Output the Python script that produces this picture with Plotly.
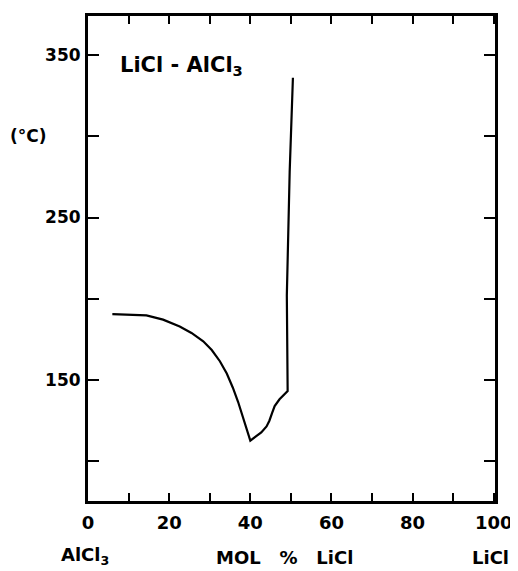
import plotly.graph_objects as go

# Liquidus curve of LiCl-AlCl3 (mol % LiCl vs temperature in °C)
mol_pct_licl = [6.0, 10.0, 14.4, 18.5, 22.6, 25.5, 28.4, 30.5, 32.5, 34.2, 35.7, 37.0, 38.2, 39.2, 40.0,
                41.3, 42.7, 44.0, 44.7, 45.4, 46.0, 47.2, 49.2, 49.0, 49.7, 50.5]
temp_c = [190.6, 190.4, 189.8, 187.2, 183.0, 179.0, 173.9, 168.5, 161.6, 154.0, 145.3, 136.5, 127.0, 119.0, 112.7,
          115.2, 117.8, 121.5, 125.0, 130.0, 134.0, 138.2, 143.3, 202.0, 278.0, 336.0]

x_tick_vals = [0, 10, 20, 30, 40, 50, 60, 70, 80, 90, 100]
x_tick_text = ["0", "", "20", "", "40", "", "60", "", "80", "", "100"]
y_tick_vals = [100, 150, 200, 250, 300, 350]
y_tick_text = ["", "150", "", "250", "", "350"]

FONT = "DejaVu Sans"

fig = go.Figure()
fig.add_trace(go.Scatter(x=mol_pct_licl, y=temp_c, mode="lines",
                         line=dict(color="black", width=2.2), showlegend=False, hoverinfo="skip"))

fig.update_layout(
    width=510, height=563,
    margin=dict(l=80, r=21, t=5, b=70),
    paper_bgcolor="white", plot_bgcolor="white",
    showlegend=False,
)
fig.update_xaxes(
    range=[0, 100.3], showgrid=False, zeroline=False,
    showline=True, linecolor="black", linewidth=3, mirror="ticks",
    ticks="inside", ticklen=8, tickwidth=2, tickcolor="black",
    tickvals=x_tick_vals, ticktext=x_tick_text,
    tickfont=dict(family=FONT, size=18, color="black", weight="bold"),
    ticklabelstandoff=3,
)
fig.update_yaxes(
    range=[75.6, 374], showgrid=False, zeroline=False,
    showline=True, linecolor="black", linewidth=3, mirror="ticks",
    ticks="inside", ticklen=11, tickwidth=2, tickcolor="black",
    tickvals=y_tick_vals, ticktext=y_tick_text,
    tickfont=dict(family=FONT, size=17, color="black", weight="bold"),
    ticklabelstandoff=1,
)

fig.add_annotation(x=7.5, y=343, xref="x", yref="y", text="LiCl - AlCl<sub>3</sub>",
                   showarrow=False, xanchor="left", yanchor="middle",
                   font=dict(family=FONT, size=21, color="black", weight="bold"))
fig.add_annotation(x=-0.147, y=300, xref="paper", yref="y", text="(°C)",
                   showarrow=False, xanchor="center", yanchor="middle",
                   font=dict(family=FONT, size=17, color="black", weight="bold"))
fig.add_annotation(x=-0.007, y=-0.114, xref="paper", yref="paper", text="AlCl<sub>3</sub>",
                   showarrow=False, xanchor="center", yanchor="middle",
                   font=dict(family=FONT, size=18, color="black", weight="bold"))
fig.add_annotation(x=0.482, y=-0.117, xref="paper", yref="paper", text="MOL   %   LiCl",
                   showarrow=False, xanchor="center", yanchor="middle",
                   font=dict(family=FONT, size=18, color="black", weight="bold"))
fig.add_annotation(x=0.99, y=-0.117, xref="paper", yref="paper", text="LiCl",
                   showarrow=False, xanchor="center", yanchor="middle",
                   font=dict(family=FONT, size=18, color="black", weight="bold"))

fig.write_html("out.html")
